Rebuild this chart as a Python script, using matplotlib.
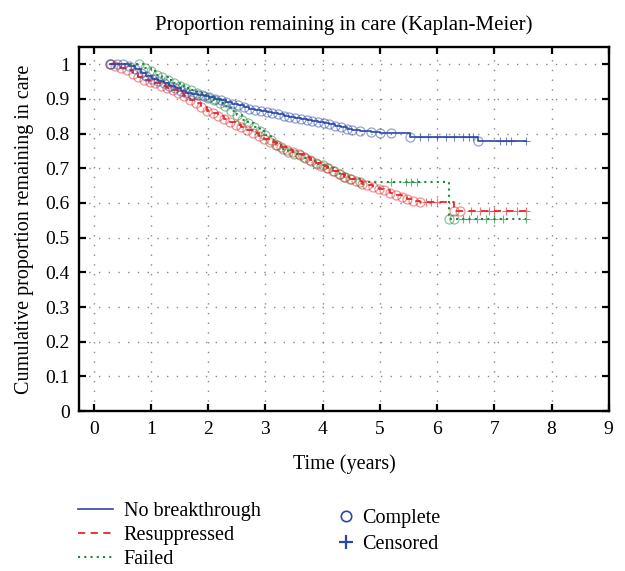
import matplotlib
matplotlib.use("Agg")
import matplotlib.pyplot as plt
from matplotlib.lines import Line2D

plt.rcParams['font.family'] = ['Liberation Serif', 'DejaVu Serif']

# Kaplan-Meier estimates (event times in years, proportion remaining)
nb_time = [0.28, 0.40, 0.52, 0.62, 0.72, 0.82, 0.92, 1.02, 1.12, 1.22, 1.32, 1.42,
           1.52, 1.62, 1.72, 1.82, 1.92, 2.02, 2.12, 2.22, 2.32, 2.42, 2.52, 2.62,
           2.72, 2.82, 2.92, 3.02, 3.12, 3.22, 3.32, 3.42, 3.52, 3.62, 3.72, 3.82,
           3.92, 4.02, 4.12, 4.22, 4.32, 4.42, 4.52, 4.65, 4.85, 5.00, 5.20, 5.52, 6.72]
nb_surv = [1.000, 1.000, 1.000, 0.995, 0.985, 0.975, 0.965, 0.958, 0.952, 0.945, 0.938, 0.930,
           0.924, 0.918, 0.914, 0.911, 0.908, 0.904, 0.900, 0.896, 0.891, 0.886, 0.882, 0.877,
           0.872, 0.868, 0.865, 0.862, 0.859, 0.855, 0.852, 0.849, 0.845, 0.842, 0.839, 0.836,
           0.833, 0.830, 0.827, 0.823, 0.819, 0.814, 0.810, 0.807, 0.805, 0.803, 0.803, 0.791, 0.779]
nb_cens_time = [5.70, 5.85, 6.00, 6.15, 6.30, 6.45, 6.55, 6.62, 7.10, 7.20, 7.30, 7.55]
nb_cens_surv = [0.791, 0.791, 0.791, 0.791, 0.791, 0.791, 0.791, 0.791, 0.779, 0.779, 0.779, 0.779]

rs_time = [0.28, 0.38, 0.48, 0.58, 0.68, 0.78, 0.88, 0.98, 1.08, 1.18, 1.28, 1.38,
           1.48, 1.58, 1.68, 1.78, 1.88, 1.98, 2.08, 2.18, 2.28, 2.38, 2.48, 2.58,
           2.68, 2.78, 2.88, 2.98, 3.08, 3.18, 3.28, 3.38, 3.48, 3.58, 3.68, 3.78,
           3.88, 3.98, 4.08, 4.18, 4.28, 4.38, 4.48, 4.58, 4.68, 4.78, 4.88, 4.98,
           5.08, 5.18, 5.28, 5.38, 5.48, 5.58, 5.70, 6.30, 6.40]
rs_surv = [1.000, 0.995, 0.990, 0.982, 0.972, 0.962, 0.955, 0.950, 0.945, 0.938, 0.932, 0.926,
           0.918, 0.908, 0.898, 0.887, 0.876, 0.866, 0.858, 0.850, 0.842, 0.834, 0.826, 0.818,
           0.810, 0.802, 0.794, 0.785, 0.776, 0.768, 0.760, 0.752, 0.746, 0.741, 0.733, 0.724,
           0.715, 0.706, 0.700, 0.692, 0.684, 0.676, 0.668, 0.662, 0.656, 0.651, 0.646, 0.640,
           0.636, 0.630, 0.624, 0.618, 0.612, 0.606, 0.603, 0.578, 0.578]
rs_cens_time = [5.80, 5.90, 6.00, 6.60, 6.75, 6.90, 7.00, 7.20, 7.40, 7.55]
rs_cens_surv = [0.603, 0.603, 0.603, 0.578, 0.578, 0.578, 0.578, 0.578, 0.578, 0.578]

fl_time = [0.30, 0.80, 0.90, 1.00, 1.10, 1.20, 1.30, 1.40, 1.50, 1.60, 1.70, 1.80,
           1.90, 2.00, 2.10, 2.20, 2.30, 2.40, 2.50, 2.60, 2.70, 2.80, 2.90, 3.00,
           3.10, 3.20, 3.30, 3.40, 3.50, 3.60, 3.70, 3.80, 3.90, 4.00, 4.10, 4.20,
           4.30, 4.40, 4.50, 4.65, 6.20, 6.30]
fl_surv = [1.000, 1.000, 0.990, 0.980, 0.970, 0.962, 0.953, 0.945, 0.938, 0.932, 0.926, 0.918,
           0.910, 0.903, 0.897, 0.889, 0.878, 0.866, 0.853, 0.840, 0.830, 0.820, 0.808, 0.795,
           0.782, 0.768, 0.755, 0.748, 0.742, 0.737, 0.730, 0.720, 0.712, 0.708, 0.700, 0.692,
           0.684, 0.676, 0.668, 0.660, 0.554, 0.554]
fl_cens_time = [5.20, 5.45, 5.55, 5.65, 6.45, 6.55, 6.70, 6.85, 7.00, 7.15, 7.55]
fl_cens_surv = [0.660, 0.660, 0.660, 0.660, 0.554, 0.554, 0.554, 0.554, 0.554, 0.554, 0.554]

blue = '#2b47a6'
red = '#e8262a'
green = '#1e8a3a'

groups = [
    ('No breakthrough', nb_time, nb_surv, nb_cens_time, nb_cens_surv, blue, '-', 1.2),
    ('Resuppressed', rs_time, rs_surv, rs_cens_time, rs_cens_surv, red, (0, (4, 3)), 1.3),
    ('Failed', fl_time, fl_surv, fl_cens_time, fl_cens_surv, green, (0, (1, 2)), 1.5),
]

fig = plt.figure(figsize=(6.25, 5.71), dpi=100)
ax = fig.add_axes([0.127, 0.280, 0.847, 0.638])

ax.grid(True, color='#888888', linestyle=(0, (1, 6)), linewidth=1.0)
ax.set_axisbelow(True)

# draw fail, resuppressed, then no breakthrough on top
for name, t, s, ct, cs, col, ls, lw in reversed(groups):
    ax.plot(t, s, 'o', ms=6.5, mfc='none', mec=col, mew=0.9, alpha=0.5)
    ax.plot(ct, cs, '+', ms=5.5, mec=col, mew=0.8, alpha=0.65)
    ax.step(t + [ct[-1]], s + [s[-1]], where='post', color=col, linestyle=ls, lw=lw)

ax.set_xlim(-0.25, 9)
ax.set_ylim(0, 1.05)
ax.set_xticks(range(0, 10))
ax.set_yticks([i / 10 for i in range(11)])
ax.set_yticklabels(['0', '0.1', '0.2', '0.3', '0.4', '0.5', '0.6', '0.7', '0.8', '0.9', '1'])
ax.tick_params(direction='in', length=5, width=1.6, top=True, right=True,
               labelsize=14, pad=7)
for sp in ax.spines.values():
    sp.set_linewidth(1.7)

ax.set_title('Proportion remaining in care (Kaplan-Meier)', fontsize=15, pad=12)
ax.set_xlabel('Time (years)', fontsize=14.5, labelpad=12)
ax.set_ylabel('Cumulative proportion remaining in care', fontsize=14.5, labelpad=8)

line_handles = [Line2D([], [], color=g[5], linestyle=g[6], lw=g[7]) for g in groups]
fig.legend(line_handles, [g[0] for g in groups], loc='upper left',
           bbox_to_anchor=(0.124, 0.121), frameon=False, fontsize=14.5,
           handlelength=1.75, handletextpad=0.55, labelspacing=0.24, borderpad=0,
           borderaxespad=0)

mark_handles = [Line2D([], [], marker='o', ls='none', mfc='none', mec=blue, ms=7.5, mew=1.2),
                Line2D([], [], marker='+', ls='none', mec=blue, ms=10, mew=1.6)]
fig.legend(mark_handles, ['Complete', 'Censored'], loc='upper left',
           bbox_to_anchor=(0.538, 0.108), frameon=False, fontsize=14.5,
           handlelength=1.0, handletextpad=0.3, labelspacing=0.3, borderpad=0,
           borderaxespad=0)

fig.savefig('out.png', dpi=100)
